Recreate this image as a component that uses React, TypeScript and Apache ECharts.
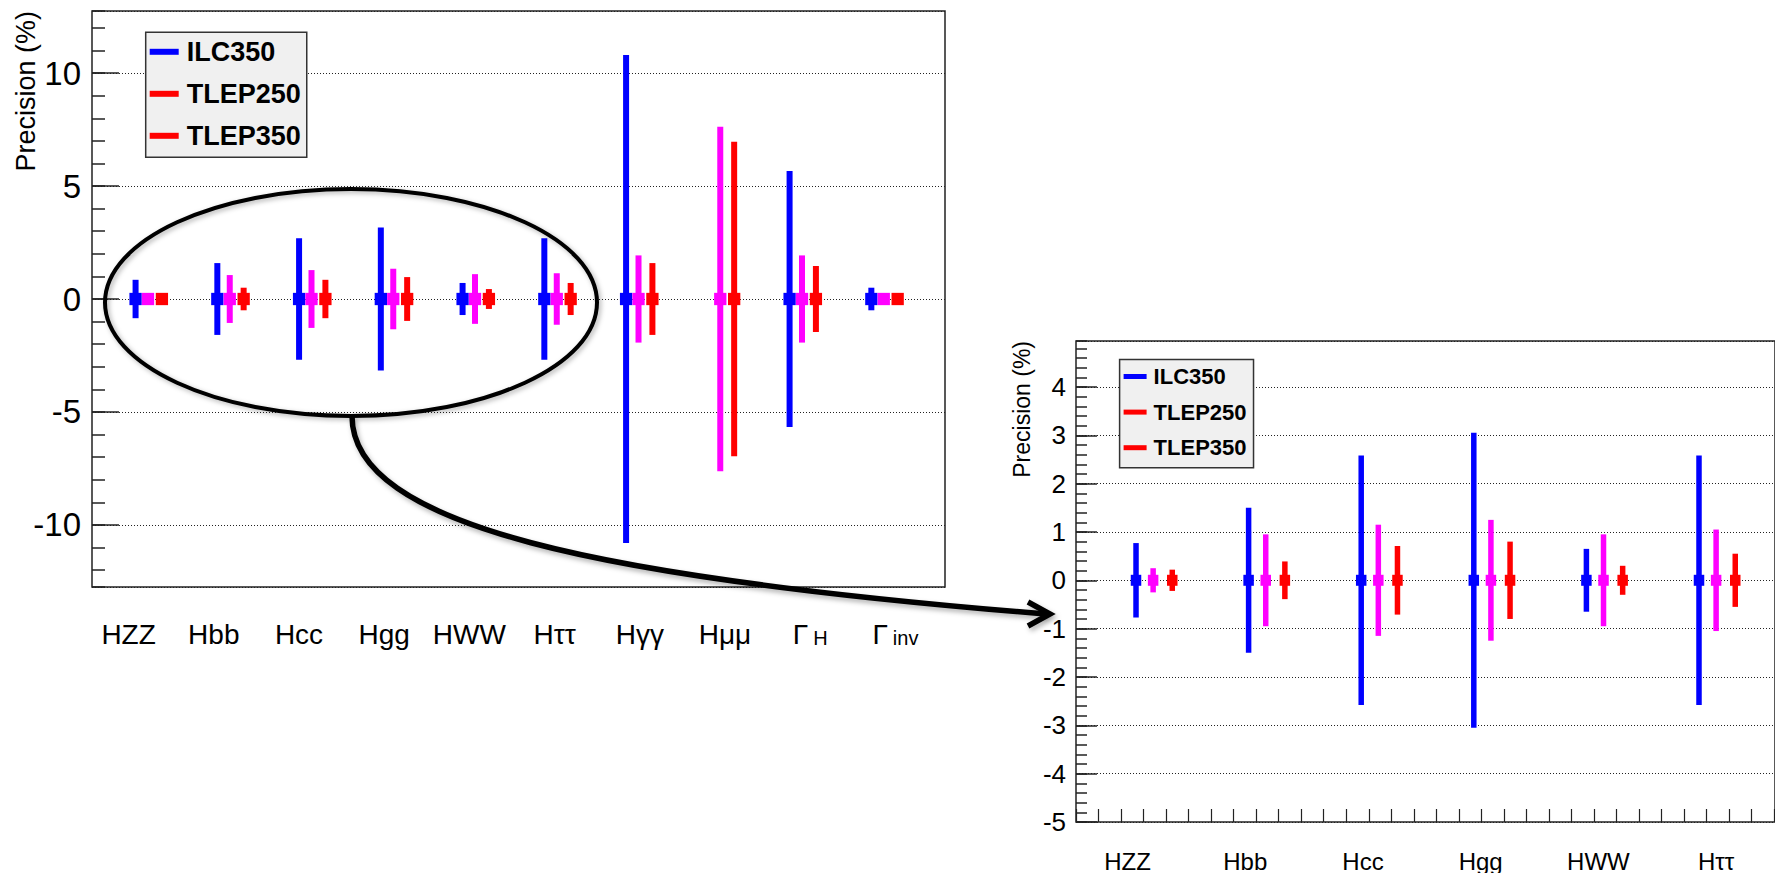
import React, { useEffect, useRef } from 'react';
import * as echarts from 'echarts';

const FONT = "'Liberation Sans', Arial, Helvetica, sans-serif";

// Main (full) chart
const categories = ['HZZ', 'Hbb', 'Hcc', 'Hgg', 'HWW', 'Hττ', 'Hγγ', 'Hμμ', 'Γ_H', 'Γ_inv'];
const ilc350: (number | null)[] = [0.85, 1.59, 2.69, 3.16, 0.71, 2.69, 10.8, null, 5.67, 0.5];
const tlep250: (number | null)[] = [0.25, 1.06, 1.28, 1.34, 1.1, 1.14, 1.93, 7.63, 1.93, 0.2];
const tlep350: (number | null)[] = [0.22, 0.5, 0.85, 0.97, 0.44, 0.71, 1.59, 6.96, 1.46, 0.2];

// Zoomed chart
const zoomCategories = ['HZZ', 'Hbb', 'Hcc', 'Hgg', 'HWW', 'Hττ'];
const zoomIlc350: (number | null)[] = [0.77, 1.5, 2.58, 3.05, 0.65, 2.58];
const zoomTlep250: (number | null)[] = [0.25, 0.95, 1.15, 1.25, 0.95, 1.05];
const zoomTlep350: (number | null)[] = [0.22, 0.39, 0.71, 0.8, 0.3, 0.55];

const seriesNames = ['ILC350', 'TLEP250', 'TLEP350'];
const markColors = ['#0000ff', '#ff00ff', '#ff0000'];
const legendColors = ['#0000ff', '#ff0000', '#ff0000'];
const offsets = [0.533, 0.685, 0.855];

const errBar = (color: string, barW: number, mW: number, mH: number) => (params: any, api: any) => {
  const x = api.value(0);
  const e = api.value(1);
  const c = api.coord([x, 0]);
  const t = api.coord([x, e]);
  const b = api.coord([x, -e]);
  return {
    type: 'group',
    children: [
      { type: 'rect', shape: { x: c[0] - barW / 2, y: t[1], width: barW, height: b[1] - t[1] }, style: { fill: color } },
      { type: 'rect', shape: { x: c[0] - mW / 2, y: c[1] - mH / 2, width: mW, height: mH }, style: { fill: color } },
    ],
  };
};

const mkSeries = (k: number, vals: (number | null)[], xIdx: number, yIdx: number, barW: number, mW: number, mH: number) => ({
  type: 'custom',
  name: seriesNames[k],
  xAxisIndex: xIdx,
  yAxisIndex: yIdx,
  itemStyle: { color: legendColors[k] },
  renderItem: errBar(markColors[k], barW, mW, mH),
  encode: { x: 0, y: 1 },
  data: vals.map((v, i) => (v == null ? null : [i + offsets[k], v])).filter((d) => d != null),
  z: 3,
});

const fmtLabel = (v: string) => {
  const [m, s] = v.split('_');
  return s ? `{m|${m}}{s|${s}}` : `{m|${m}}`;
};

const tickStyle = { color: '#222', width: 1.5 };
const gridLine = { show: true, lineStyle: { color: '#222', width: 1.2, type: [1, 2] } };

const option: any = {
  animation: false,
  backgroundColor: '#fff',
  grid: [
    { left: 92, top: 11, width: 853, height: 576, show: true, borderColor: '#222', borderWidth: 1.5, backgroundColor: 'transparent' },
    { left: 86, top: 11, width: 852, height: 576, show: false },
    { left: 1076, top: 341, width: 704, height: 481, show: true, borderColor: '#222', borderWidth: 1.5, backgroundColor: 'transparent' },
    { left: 1068.7, top: 341, width: 709.2, height: 481, show: false },
  ],
  xAxis: [
    { type: 'value', gridIndex: 0, min: 0, max: 10.434, show: false, axisLine: { onZero: false } },
    {
      type: 'category', gridIndex: 1, data: categories, position: 'bottom',
      axisLine: { show: false, onZero: false }, axisTick: { show: false }, splitLine: { show: false },
      axisLabel: {
        interval: 0, margin: 33, formatter: fmtLabel,
        rich: {
          m: { fontSize: 28, lineHeight: 28, padding: [0, 0, 14, 0], verticalAlign: 'top', fontFamily: FONT, color: '#000' },
          s: { fontSize: 20, lineHeight: 20, padding: [0, 0, 0, 5], verticalAlign: 'bottom', fontFamily: FONT, color: '#000' },
        },
      },
    },
    {
      type: 'value', gridIndex: 2, min: 0, max: 6.208, interval: 0.2, position: 'bottom',
      axisLine: { show: false, onZero: false }, axisLabel: { show: false }, splitLine: { show: false },
      axisTick: { show: true, inside: true, length: 13, lineStyle: { color: '#222', width: 1.2 } },
    },
    {
      type: 'category', gridIndex: 3, data: zoomCategories, position: 'bottom',
      axisLine: { show: false, onZero: false }, axisTick: { show: false }, splitLine: { show: false },
      axisLabel: {
        interval: 0, margin: 27, formatter: fmtLabel,
        rich: {
          m: { fontSize: 24, lineHeight: 24, verticalAlign: 'top', fontFamily: FONT, color: '#000' },
          s: { fontSize: 17, lineHeight: 17, padding: [0, 0, 0, 4], verticalAlign: 'bottom', fontFamily: FONT, color: '#000' },
        },
      },
    },
  ],
  yAxis: [
    {
      type: 'value', gridIndex: 0, position: 'left', min: -12.75, max: 12.75,
      axisLine: { show: false, onZero: false },
      axisTick: { show: true, inside: true, length: 27, lineStyle: tickStyle },
      axisLabel: { fontSize: 33, margin: 11, color: '#000', fontFamily: FONT, showMinLabel: false, showMaxLabel: false },
      splitLine: gridLine,
      name: 'Precision (%)', nameLocation: 'end', nameRotate: 90, nameGap: 0, nameMoveOverlap: false,
      nameTextStyle: { fontSize: 27, fontFamily: FONT, color: '#000', align: 'right', verticalAlign: 'bottom', padding: [0, 0, 53, 0] },
    },
    {
      type: 'value', gridIndex: 0, position: 'left', min: -12.75, max: 12.75, splitNumber: 25,
      axisLine: { show: false, onZero: false },
      axisTick: { show: true, inside: true, length: 13, lineStyle: tickStyle },
      axisLabel: { show: false }, splitLine: { show: false },
    },
    { type: 'value', gridIndex: 1, min: 0, max: 1, show: false },
    {
      type: 'value', gridIndex: 2, position: 'left', min: -5, max: 4.95, interval: 1,
      axisLine: { show: false, onZero: false },
      axisTick: { show: true, inside: true, length: 21, lineStyle: tickStyle },
      axisLabel: { fontSize: 26, margin: 10, color: '#000', fontFamily: FONT, showMaxLabel: false },
      splitLine: gridLine,
      name: 'Precision (%)', nameLocation: 'end', nameRotate: 90, nameGap: 0, nameMoveOverlap: false,
      nameTextStyle: { fontSize: 23, fontFamily: FONT, color: '#000', align: 'right', verticalAlign: 'bottom', padding: [0, 0, 43, 0] },
    },
    {
      type: 'value', gridIndex: 2, position: 'left', min: -5, max: 4.95, interval: 0.2,
      axisLine: { show: false, onZero: false },
      axisTick: { show: true, inside: true, length: 11, lineStyle: tickStyle },
      axisLabel: { show: false }, splitLine: { show: false },
    },
    { type: 'value', gridIndex: 3, min: 0, max: 1, show: false },
  ],
  legend: [
    {
      data: seriesNames, orient: 'vertical', left: 145.7, top: 32.3, icon: 'rect',
      itemWidth: 29, itemHeight: 6, itemGap: 15, selectedMode: false,
      padding: [6, 6, 8, 4], backgroundColor: '#f0f0f0', borderColor: '#333', borderWidth: 1.5,
      textStyle: { fontSize: 27, fontWeight: 'bold', fontFamily: FONT, color: '#000', padding: [0, 0, 0, 3] },
    },
    {
      data: seriesNames, orient: 'vertical', left: 1119.6, top: 359.5, icon: 'rect',
      itemWidth: 23, itemHeight: 5, itemGap: 13.6, selectedMode: false,
      padding: [6, 7, 9, 4], backgroundColor: '#f0f0f0', borderColor: '#333', borderWidth: 1.5,
      textStyle: { fontSize: 22, fontWeight: 'bold', fontFamily: FONT, color: '#000', padding: [0, 0, 0, 2] },
    },
  ],
  series: [
    mkSeries(0, ilc350, 0, 0, 6, 12.3, 12.3),
    mkSeries(1, tlep250, 0, 0, 6, 12.3, 12.3),
    mkSeries(2, tlep350, 0, 0, 6, 12.3, 12.3),
    mkSeries(0, zoomIlc350, 2, 3, 5.5, 10.5, 11),
    mkSeries(1, zoomTlep250, 2, 3, 5.5, 10.5, 11),
    mkSeries(2, zoomTlep350, 2, 3, 5.5, 10.5, 11),
  ],
  graphic: [
    {
      type: 'ellipse', z: 100,
      shape: { cx: 351, cy: 302.5, rx: 246, ry: 113.5 },
      style: { fill: 'none', stroke: '#000', lineWidth: 4, shadowBlur: 5, shadowColor: 'rgba(0,0,0,0.3)', shadowOffsetX: 2, shadowOffsetY: 2 },
    },
    {
      type: 'bezierCurve', z: 100,
      shape: { x1: 352, y1: 416, cpx1: 352, cpy1: 526, cpx2: 598, cpy2: 578, x2: 1046, y2: 614 },
      style: { fill: 'none', stroke: '#000', lineWidth: 5.5, shadowBlur: 5, shadowColor: 'rgba(0,0,0,0.3)', shadowOffsetX: 2, shadowOffsetY: 3 },
    },
    {
      type: 'polyline', z: 100,
      shape: { points: [[1028, 602], [1050, 614], [1028, 626]] },
      style: { fill: 'none', stroke: '#000', lineWidth: 5.5, lineJoin: 'miter', shadowBlur: 5, shadowColor: 'rgba(0,0,0,0.3)', shadowOffsetX: 2, shadowOffsetY: 3 },
    },
  ],
};

export default function App() {
  const ref = useRef<HTMLDivElement>(null);
  useEffect(() => {
    if (!ref.current) return;
    const chart = echarts.init(ref.current, undefined, { renderer: 'svg' });
    chart.setOption(option);
    return () => chart.dispose();
  }, []);
  return (
    <div
      ref={ref}
      style={{ position: 'fixed', left: 0, top: 0, width: 1775, height: 873, background: '#fff' }}
    />
  );
}
